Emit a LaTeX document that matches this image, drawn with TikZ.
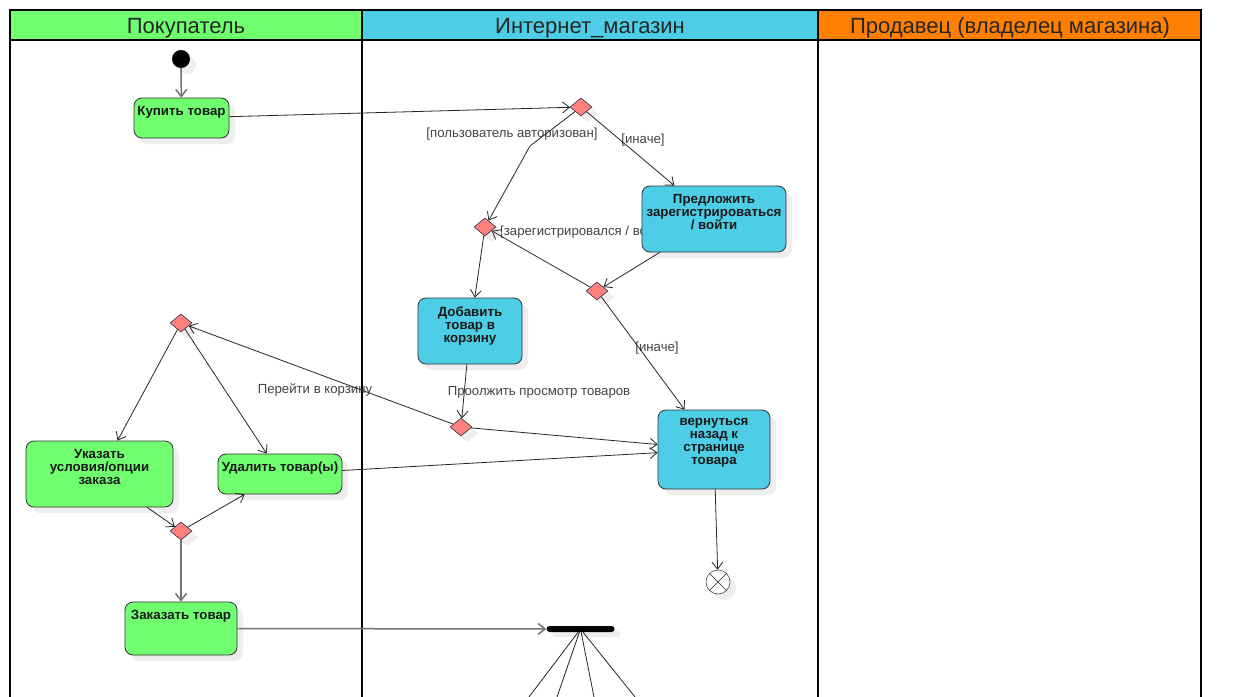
\documentclass[tikz,border=0pt]{standalone}
\usepackage{fontspec}
\setmainfont{Liberation Sans}
\usetikzlibrary{positioning, shapes.geometric, arrows.meta, shadows}

\definecolor{buyergreen}{RGB}{111,255,111}
\definecolor{shopblue}{RGB}{78,205,230}
\definecolor{sellerorange}{RGB}{255,128,0}
\definecolor{decisionred}{RGB}{255,128,128}
\definecolor{shadowgray}{RGB}{238,238,238}
\definecolor{guardgray}{RGB}{68,68,68}

\tikzset{
  lane/.style={draw=black, line width=2pt},
  lanehead/.style={anchor=base, font=\fontsize{22}{26}\selectfont, text=black!85},
  shade/.style={drop shadow={shadow xshift=6pt, shadow yshift=-6pt, fill=shadowgray, opacity=1}},
  act/.style={draw=black!80, fill=#1, rounded corners=8pt, line width=0.8pt, inner sep=0pt, shade},
  acttext/.style={anchor=north, yshift=-8.5pt, inner sep=0pt, align=center,
    font=\bfseries\fontsize{13.3}{13}\selectfont, text=black!90},
  decision/.style={diamond, draw=black!80, fill=decisionred, inner sep=0pt,
    minimum width=22pt, minimum height=18pt, line width=0.6pt, shade},
  flow/.style={draw=black!85, line width=0.8pt, -{Straight Barb[length=7pt,width=11pt]}},
  greyflow/.style={draw=black!55, line width=1.5pt, -{Straight Barb[length=7pt,width=11pt]}},
  guard/.style={font=\fontsize{13.2}{15}\selectfont, text=guardgray, inner sep=1pt},
}

\begin{document}
\begin{tikzpicture}[x=1pt, y=-1pt]
  \useasboundingbox (0,0) rectangle (1242,696);
  \fill[white] (0,0) rectangle (1242,696);
  \clip (0,0) rectangle (1242,696);

  % swimlanes
  \fill[buyergreen] (10,10) rectangle (362,40);
  \fill[shopblue] (362,10) rectangle (818,40);
  \fill[sellerorange] (818,10) rectangle (1201,40);
  \node[lanehead] (buyerhead) at (186,33) {Покупатель};
  \node[lanehead] (shophead) at (590,33) {Интернет\_магазин};
  \node[lanehead] (sellerhead) at (1010,33) {Продавец (владелец магазина)};
  \draw[lane] (10,10) rectangle (362,720);
  \draw[lane] (362,10) rectangle (818,720);
  \draw[lane] (818,10) rectangle (1201,720);
  \draw[lane] (10,40) -- (1201,40);

  % guards
  \node[guard] (gauth) at (512,134) {[пользователь авторизован]};
  \node[guard] (gelse1) at (643,140) {[иначе]};
  \node[guard, anchor=west] (greg) at (499,232) {[зарегистрировался / вошёл]};
  \node[guard] (gelse2) at (657,348) {[иначе]};
  \node[guard] (gcont) at (539,392) {Проолжить просмотр товаров};
  \node[guard] (gcart) at (315,390) {Перейти в корзину};

  % activities
  \node[circle, fill=black, minimum size=18pt, inner sep=0pt, shade] (start) at (181,59) {};
  \node[act=buyergreen, minimum width=95pt, minimum height=40pt,
    label={[acttext]north:Купить товар}] (buy) at (181.5,118) {};
  \node[act=shopblue, minimum width=144pt, minimum height=66pt,
    label={[acttext]north:Предложить\\зарегистрироваться\\/ войти}] (offer) at (714,219) {};
  \node[act=shopblue, minimum width=104pt, minimum height=66pt,
    label={[acttext]north:Добавить\\товар в\\корзину}] (add) at (470,331) {};
  \node[act=shopblue, minimum width=112pt, minimum height=79pt,
    label={[acttext]north:вернуться\\назад к\\странице\\товара}] (back) at (714,449.5) {};
  \node[act=buyergreen, minimum width=147pt, minimum height=66pt,
    label={[acttext]north:Указать\\условия/опции\\заказа}] (spec) at (99.5,474) {};
  \node[act=buyergreen, minimum width=124pt, minimum height=40pt,
    label={[acttext]north:Удалить товар(ы)}] (del) at (280,474) {};
  \node[act=buyergreen, minimum width=112pt, minimum height=53pt,
    label={[acttext]north:Заказать товар}] (order) at (181,628.5) {};

  % decisions
  \node[decision] (d1) at (581,107) {};
  \node[decision] (d2) at (485,227) {};
  \node[decision] (d3) at (597,291) {};
  \node[decision] (d4) at (461,427) {};
  \node[decision] (d5) at (181,323) {};
  \node[decision] (d6) at (181,531) {};

  % end and fork
  \node[circle, draw=black!70, fill=white, minimum size=24pt, inner sep=0pt, line width=0.6pt, shade] (final) at (718,582) {};
  \draw[black!85, line width=0.6pt] (final.45) -- (final.225) (final.135) -- (final.-45);
  \node[fill=black, rounded corners=3pt, minimum width=68pt, minimum height=6pt, inner sep=0pt,
    drop shadow={shadow xshift=6pt, shadow yshift=-5pt, fill=shadowgray, opacity=1}] (fork) at (580.5,629) {};

  \coordinate (bend1) at (530,146);
  \coordinate (f1) at (529,697);
  \coordinate (f2) at (557,697);
  \coordinate (f3) at (594,697);
  \coordinate (f4) at (635,697);

  % flows
  \draw[greyflow] (start) -- (buy);
  \draw[flow] (buy) -- (d1);
  \draw[flow] (d1) -- (bend1) -- (d2);
  \draw[flow] (d1) -- (offer);
  \draw[flow] (offer) -- (d3);
  \draw[flow] (d3) -- (d2);
  \draw[flow] (d2) -- (add);
  \draw[flow] (d3) -- (back);
  \draw[flow] (add) -- (d4);
  \draw[flow] (d4) -- (back);
  \draw[flow] (d4) -- (d5);
  \draw[flow] (d5) -- (spec);
  \draw[flow] (d5) -- (del);
  \draw[flow] (del) -- (back);
  \draw[flow] (spec) -- (d6);
  \draw[flow] (d6) -- (del);
  \draw[greyflow] (d6) -- (order);
  \draw[greyflow] (order) -- (fork);
  \draw[flow] (back) -- (final);
  \draw[black!85, line width=0.8pt] (fork) -- (f1) (fork) -- (f2) (fork) -- (f3) (fork) -- (f4);
\end{tikzpicture}
\end{document}
